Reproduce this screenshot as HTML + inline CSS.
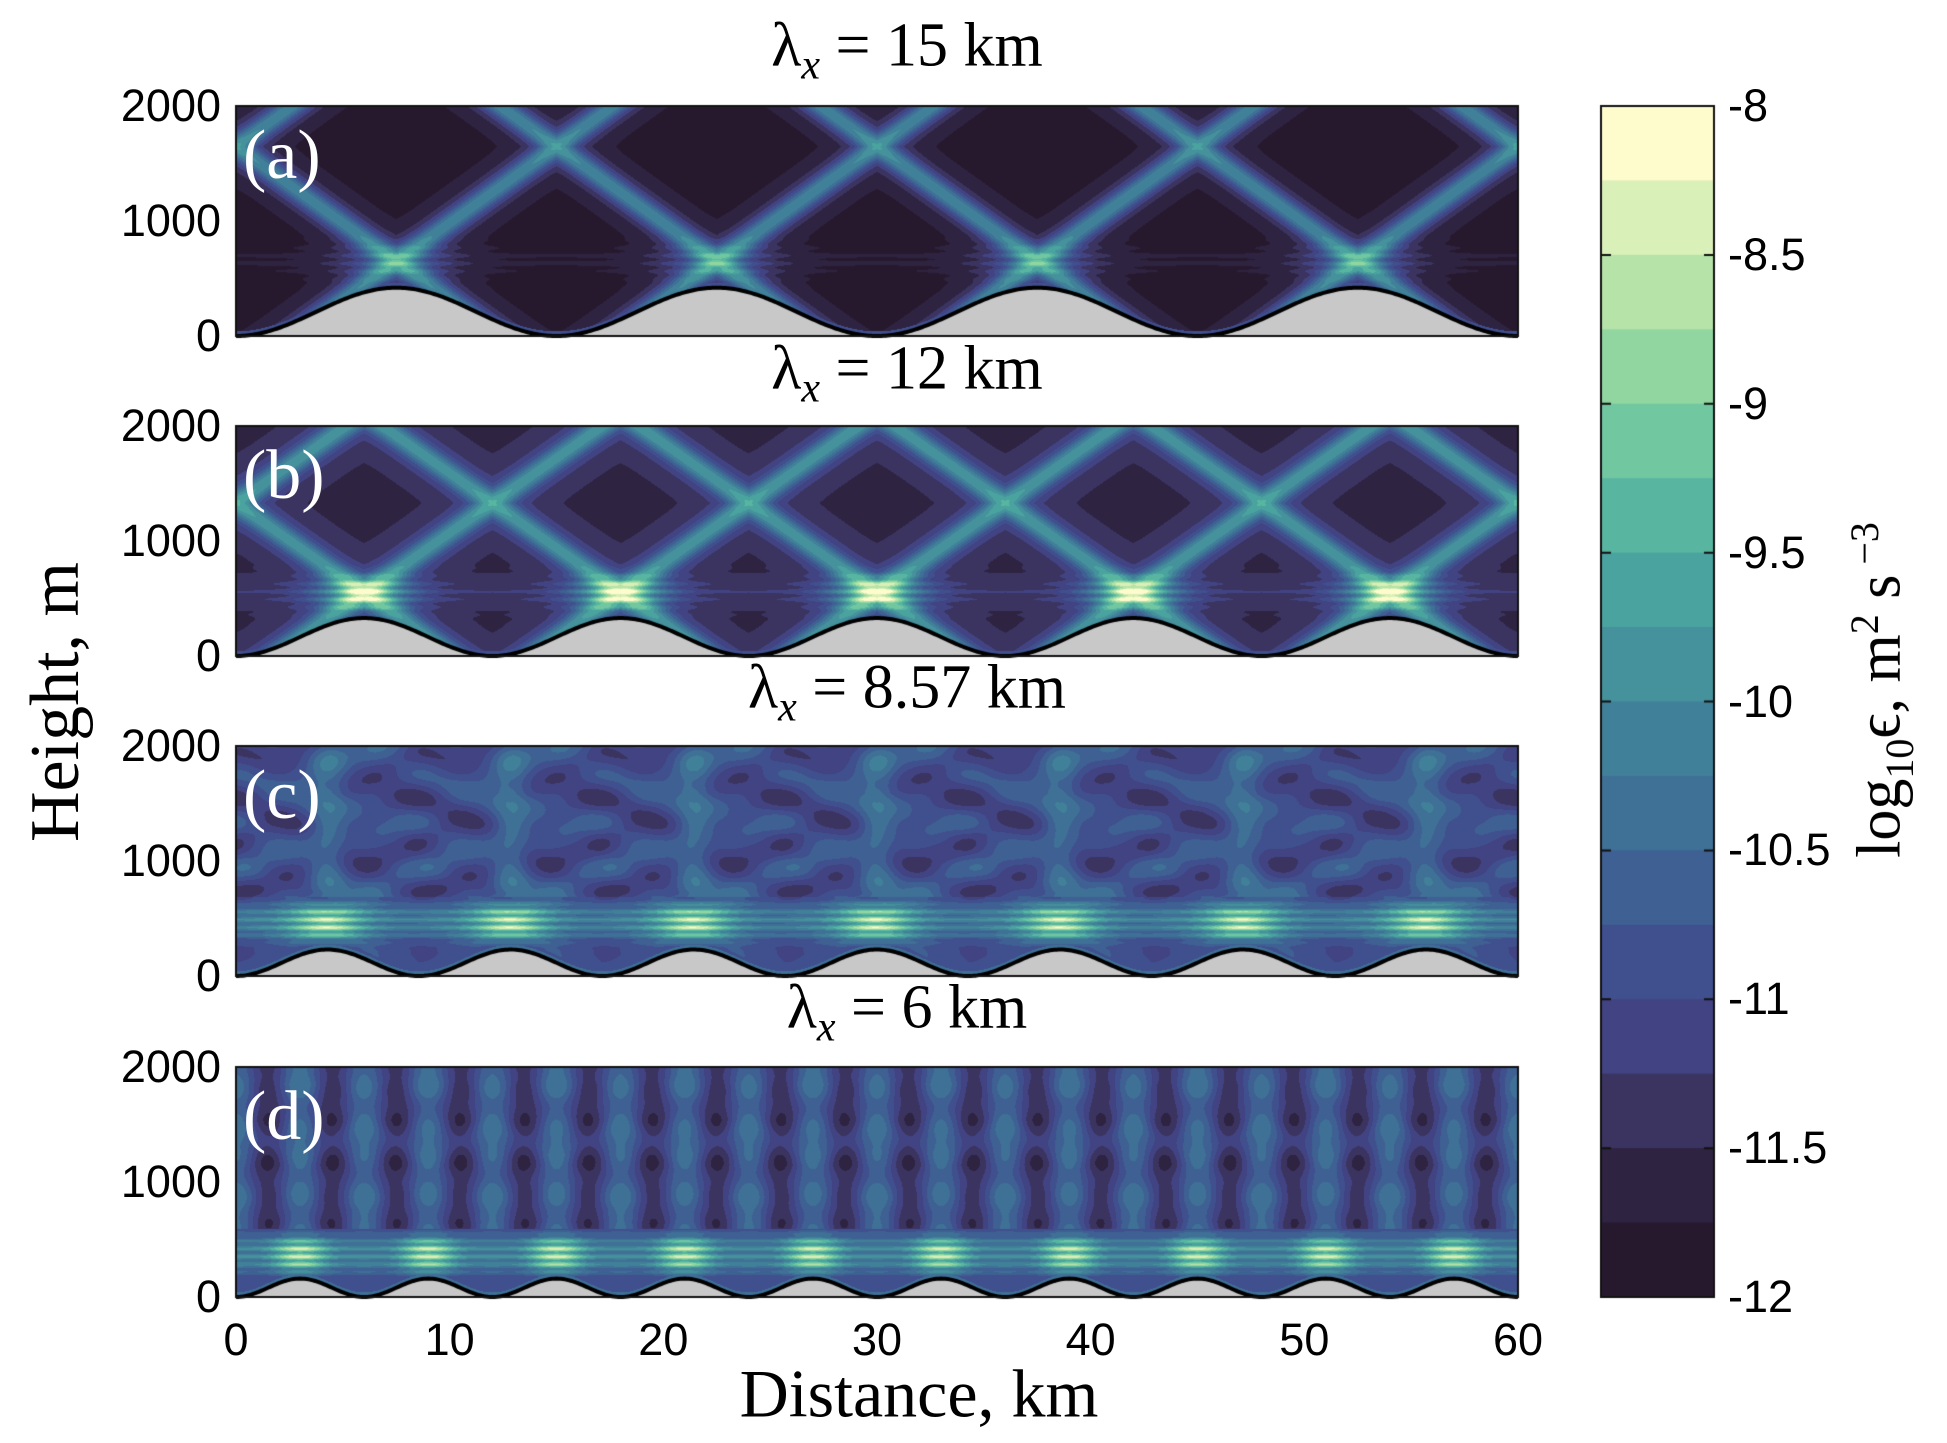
<!DOCTYPE html>
<html><head><meta charset="utf-8">
<style>
html,body{margin:0;padding:0;background:#fff;}
#wrap{position:relative;width:1947px;height:1443px;overflow:hidden;}
canvas{position:absolute;left:0;top:0;}
.t{position:absolute;white-space:nowrap;color:#000;}
.sans{font-family:"Liberation Sans",sans-serif;font-size:45px;}
.serif{font-family:"Liberation Serif",serif;}
.ttl{font-family:"Liberation Serif",serif;font-size:62px;transform:translate(-50%,-50%);}
.ytk{transform:translate(-100%,-50%);}
.xtk{transform:translate(-50%,-50%);}
.ctk{transform:translate(0,-50%);}
.plab{font-family:"Liberation Serif",serif;font-size:70px;color:#fff;transform:translate(0,-50%);}
</style></head>
<body>
<div id="wrap">
<canvas id="cv" width="1947" height="1443"></canvas>
</div>
<script>
// ---- data ----
const panelIds = ['a','b','c','d'];
const wavelengthsKm = [15, 12, 8.57, 6];
const titleLabels = ['15', '12', '8.57', '6'];
const hillHeightsM = [420, 330, 230, 160];
const beamCrossZ = [650, 550, 470, 370];
const beamSlopes = [133, 130, 130, 130];
const baseLevels = [-11.85, -11.55, -11.05, -11.0];
const beamAmps = [1.35, 1.3, 0.15, 0.1];
const bandAmps = [0.9, 2.1, 2.5, 2.5];
const yTicks = [0, 1000, 2000];
const xTicks = [0, 10, 20, 30, 40, 50, 60];
const cbTicks = [-8, -8.5, -9, -9.5, -10, -10.5, -11, -11.5, -12];
const levelColors = ['#27192d','#2e2341','#3b3460','#414383','#404f8e','#3e6093','#3f7096','#418099','#45919c','#4aa39f','#58b6a0','#70c7a0','#91d6a0','#b5e3a8','#d9f0b9','#fefbcd'];
const cMin = -12, cMax = -8;

// ---- layout ----
const PX0 = 236, PX1 = 1518;
const panelTops = [106, 426, 746, 1067];
const PH = 230;
const CB = {x0:1601, x1:1714, y0:106, y1:1297};
const xS = v => PX0 + v / 60 * (PX1 - PX0);
const yS = (p, z) => panelTops[p] + PH - z / 2000 * PH;

const wrap = document.getElementById('wrap');
const cv = document.getElementById('cv');
const ctx = cv.getContext('2d');
function hex(c){return [parseInt(c.slice(1,3),16),parseInt(c.slice(3,5),16),parseInt(c.slice(5,7),16)];}
const rgb = levelColors.map(hex);
function colorIdx(v){let i=Math.floor((v-cMin)/(cMax-cMin)*16);return Math.max(0,Math.min(15,i));}

function field(p, x, z){
  const L = wavelengthsKm[p], s = beamSlopes[p], z0 = beamCrossZ[p];
  const per = s * L;
  const xm = ((x % L) + L) % L;
  const dxp = xm - L/2;
  let u = z - z0 - s*(x - L/2); u = ((u % per) + per) % per; u = Math.min(u, per-u);
  let w = z - z0 + s*(x - L/2); w = ((w % per) + per) % per; w = Math.min(w, per-w);
  const bw = 120, hw = 280;
  const b1 = Math.exp(-(u/bw)*(u/bw)) + 0.35*Math.exp(-(u/hw)*(u/hw));
  const b2 = Math.exp(-(w/bw)*(w/bw)) + 0.35*Math.exp(-(w/hw)*(w/hw));
  let v = baseLevels[p] + beamAmps[p]*Math.max(b1,b2) + 0.25*Math.min(b1,b2)*(p<2?1:0);
  const wb = p<2 ? 130 : 160;
  const dz = (z - z0)/wb;
  const wx = p<2 ? L*0.2 : L*0.24;
  const bandX = Math.exp(-(dxp/wx)*(dxp/wx));
  const streak = 0.75 + 0.25*Math.cos(2*Math.PI*z/70);
  const bandZ = p<2 ? Math.exp(-dz*dz) : Math.exp(-Math.pow(Math.abs(dz),3));
  v += bandAmps[p]*bandZ*(p<2 ? (0.15+0.85*bandX)*streak : (0.4+0.6*bandX)*streak);
  if (p == 2){
    const k = 2*Math.PI/L;
    const col = Math.exp(-Math.pow(dxp/(L*0.1),2));
    const up = z > z0+220 ? 1 : 0.2;
    v += up*(0.6*col + 0.25*Math.cos(2*k*x)*Math.cos(2*Math.PI*z/450) - 0.3*Math.sin(k*x)*Math.sin(2*Math.PI*z/600) - 0.2*Math.cos(k*x)*Math.cos(2*Math.PI*z/380));
  } else if (p == 3){
    const k = 2*Math.PI/L;
    const up = z > z0+220 ? 1 : 0.2;
    v += up*(0.5*Math.cos(2*k*x) + 0.08*Math.cos(2*k*x)*Math.cos(2*Math.PI*z/300) - 0.1*Math.sin(2*Math.PI*z/500));
  }
  return v;
}

const img = ctx.createImageData(PX1-PX0, PH);
for (let p=0;p<4;p++){
  const L = wavelengthsKm[p], H = hillHeightsM[p];
  const d = img.data;
  for (let j=0;j<PH;j++){
    const z = (PH - j - 0.5)/PH*2000;
    for (let i=0;i<PX1-PX0;i++){
      const x = (i+0.5)/(PX1-PX0)*60;
      const h = H*(1-Math.cos(2*Math.PI*x/L))/2;
      let r,g,b;
      if (z < h){ r=g=b=200; }
      else {
        let v = field(p,x,z);
        if (z - h < 40) v = Math.max(v, p<2 ? -10.9 : -10.3);
        const c = rgb[colorIdx(v)]; r=c[0];g=c[1];b=c[2];
      }
      const k=(j*(PX1-PX0)+i)*4; d[k]=r;d[k+1]=g;d[k+2]=b;d[k+3]=255;
    }
  }
  ctx.putImageData(img, PX0, panelTops[p]);
  ctx.beginPath();
  for (let i=0;i<=600;i++){
    const x = i/600*60;
    const h = H*(1-Math.cos(2*Math.PI*x/L))/2;
    const X = xS(x), Y = yS(p,h);
    if(i==0)ctx.moveTo(X,Y);else ctx.lineTo(X,Y);
  }
  ctx.strokeStyle='#000';ctx.lineWidth=4;ctx.stroke();
  ctx.strokeStyle='#111';ctx.lineWidth=2;
  ctx.strokeRect(PX0, panelTops[p], PX1-PX0, PH);
}
const segH = (CB.y1-CB.y0)/16;
for (let k=0;k<16;k++){
  ctx.fillStyle = levelColors[15-k];
  ctx.fillRect(CB.x0, CB.y0 + k*segH, CB.x1-CB.x0, segH+1);
}
ctx.strokeStyle='#111';ctx.lineWidth=2;
ctx.strokeRect(CB.x0, CB.y0, CB.x1-CB.x0, CB.y1-CB.y0);
const cbY = v => CB.y0 + (cMax - v)/(cMax-cMin)*(CB.y1-CB.y0);
cbTicks.forEach(v=>{
  const y = cbY(v);
  ctx.beginPath();ctx.moveTo(CB.x0,y);ctx.lineTo(CB.x0+10,y);ctx.moveTo(CB.x1,y);ctx.lineTo(CB.x1-10,y);ctx.stroke();
});

function addText(html, cls, x, y, name){
  const e = document.createElement('div');
  e.className = 't ' + cls;
  e.innerHTML = html;
  e.style.left = x + 'px'; e.style.top = y + 'px';
  
  
  wrap.appendChild(e);
  return e;
}
const titleYs = [50, 373, 692, 1012];
for (let p=0;p<4;p++){
  addText('λ<sub style="font-style:italic;font-size:42px;">x</sub>&nbsp;=&nbsp;' + titleLabels[p] + '&nbsp;km', 'ttl', 907, titleYs[p], 'panel-title-' + panelIds[p]);
  addText('(' + panelIds[p] + ')', 'plab', 243, panelTops[p] + 50, 'panel-label-' + panelIds[p]);
  yTicks.forEach(t=>{
    addText(String(t), 'sans ytk', 221, yS(p,t), 'y-tick-' + panelIds[p] + '-' + t);
  });
}
xTicks.forEach(t=>{
  addText(String(t), 'sans xtk', xS(t), 1340, 'x-tick-' + t);
});
cbTicks.forEach(v=>{
  addText(String(v), 'sans ctk', 1728, cbY(v), 'colorbar-tick-' + v);
});
addText('Distance, km', 'serif xtk', 919, 1394, 'x-axis-title').style.fontSize = '68px';
const yt = addText('Height, m', 'serif', 56, 702, 'y-axis-title');
yt.style.fontSize = '70px'; yt.style.transform = 'translate(-50%,-50%) rotate(-90deg)';
const ct = addText('log<sub style="font-size:40px;">10</sub>ϵ,&nbsp;m<sup style="font-size:40px;">2</sup>&nbsp;s<sup style="font-size:40px;">&nbsp;−3</sup>', 'serif', 1882, 690, 'colorbar-label');
ct.style.fontSize = '62px'; ct.style.transform = 'translate(-50%,-50%) rotate(-90deg)';
</script>
</body></html>
